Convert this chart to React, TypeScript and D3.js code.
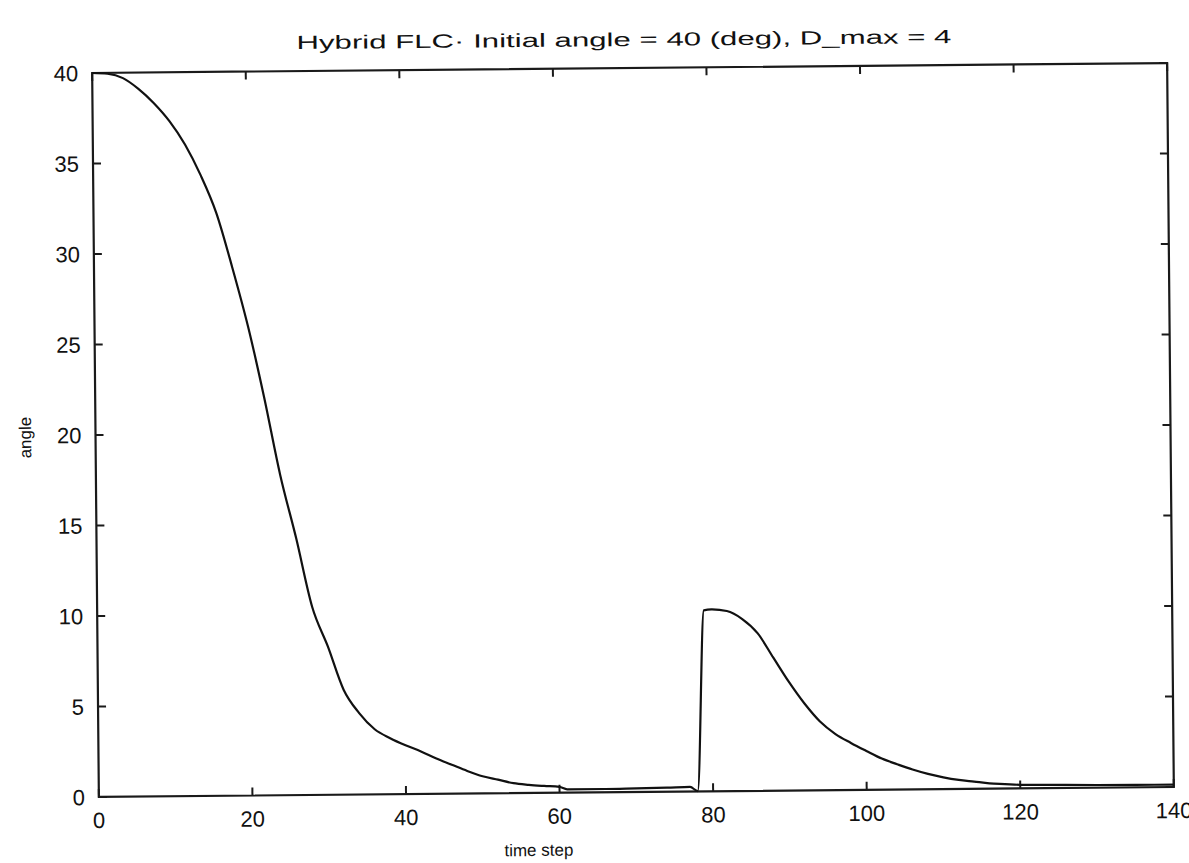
import React from "react";
import * as d3 from "d3";

const titleText = "Hybrid  FLC·  Initial  angle  =  40 (deg),  D_max  =  4";
const xLabel = "time step";
const yLabel = "angle";
const xTicks = [0, 20, 40, 60, 80, 100, 120, 140];
const yTicks = [0, 5, 10, 15, 20, 25, 30, 35, 40];

const timeSteps = [
  0, 2, 4, 6, 8, 10, 12, 14, 16, 18, 20, 22, 24, 26, 28, 30, 32, 34, 36, 38, 40,
  42, 44, 46, 48, 50, 52, 54, 56, 58, 60, 61, 66, 70, 74, 77, 78, 79, 80, 82, 84,
  86, 88, 90, 92, 94, 96, 98, 100, 102, 104, 106, 108, 110, 112, 114, 116, 118,
  120, 124, 130, 135, 140,
];
const angles = [
  40, 39.95, 39.7, 39.1, 38.3, 37.3, 36.0, 34.3, 32.2, 29.2, 25.9, 22.0, 17.7,
  14.2, 10.4, 8.2, 5.8, 4.5, 3.6, 3.1, 2.7, 2.35, 1.95, 1.6, 1.25, 0.95, 0.75,
  0.55, 0.45, 0.38, 0.32, 0.18, 0.18, 0.2, 0.22, 0.25, 0.02, 10.0, 10.05, 9.95,
  9.5, 8.7, 7.35, 6.0, 4.8, 3.8, 3.1, 2.6, 2.15, 1.72, 1.4, 1.1, 0.85, 0.65, 0.5,
  0.4, 0.3, 0.25, 0.2, 0.18, 0.15, 0.14, 0.13,
];

const W = 1189;
const H = 863;
const left = 95.5;
const right = 1170.5;
const top = 68;
const bottom = 792;
const cx = (left + right) / 2;
const cy = (top + bottom) / 2;
const font = "'Liberation Sans', Arial, Helvetica, sans-serif";

export default function App() {
  const x = d3.scaleLinear().domain([0, 140]).range([left, right]);
  const y = d3.scaleLinear().domain([0, 40]).range([bottom, top]);
  const pts: [number, number][] = timeSteps.map((t, i) => [t, angles[i]]);
  const line = d3
    .line<[number, number]>()
    .x((d) => x(d[0]))
    .y((d) => y(d[1]))
    .curve(d3.curveMonotoneX);
  const tk = 8;
  return (
    <svg
      width={W}
      height={H}
      style={{ position: "absolute", left: 0, top: 0, background: "#fff" }}
    >
      <rect x={0} y={0} width={W} height={H} fill="#fff" />
      <g transform={`rotate(-0.53, ${cx}, ${cy})`} fontFamily={font} fill="#111">
        <text
          x={300}
          y={46}
          fontSize={19}
          textAnchor="start"
          textLength={655}
          lengthAdjust="spacingAndGlyphs"
        >
          {titleText}
        </text>
        <rect
          x={left}
          y={top}
          width={right - left}
          height={bottom - top}
          fill="none"
          stroke="#1a1a1a"
          strokeWidth={2.2}
        />
        {xTicks.map((t) => (
          <g key={"x" + t}>
            <line x1={x(t)} x2={x(t)} y1={bottom} y2={bottom - tk} stroke="#1a1a1a" strokeWidth={2} />
            <line x1={x(t)} x2={x(t)} y1={top} y2={top + tk} stroke="#1a1a1a" strokeWidth={2} />
            <text x={x(t)} y={bottom + 31} fontSize={22} textAnchor="middle">
              {t}
            </text>
          </g>
        ))}
        {yTicks.map((v) => (
          <g key={"y" + v}>
            <line x1={left} x2={left + tk} y1={y(v)} y2={y(v)} stroke="#1a1a1a" strokeWidth={2} />
            <line x1={right} x2={right - tk} y1={y(v)} y2={y(v)} stroke="#1a1a1a" strokeWidth={2} />
            <text x={left - 14} y={y(v) + 8} fontSize={22} textAnchor="end">
              {v}
            </text>
          </g>
        ))}
        <path d={line(pts) || ""} fill="none" stroke="#111" strokeWidth={2.2} />
        <text x={535} y={bottom + 63} fontSize={17} textAnchor="middle">
          {xLabel}
        </text>
        <text
          transform={`translate(31, 432) rotate(-90)`}
          fontSize={17}
          textAnchor="middle"
        >
          {yLabel}
        </text>
      </g>
    </svg>
  );
}
